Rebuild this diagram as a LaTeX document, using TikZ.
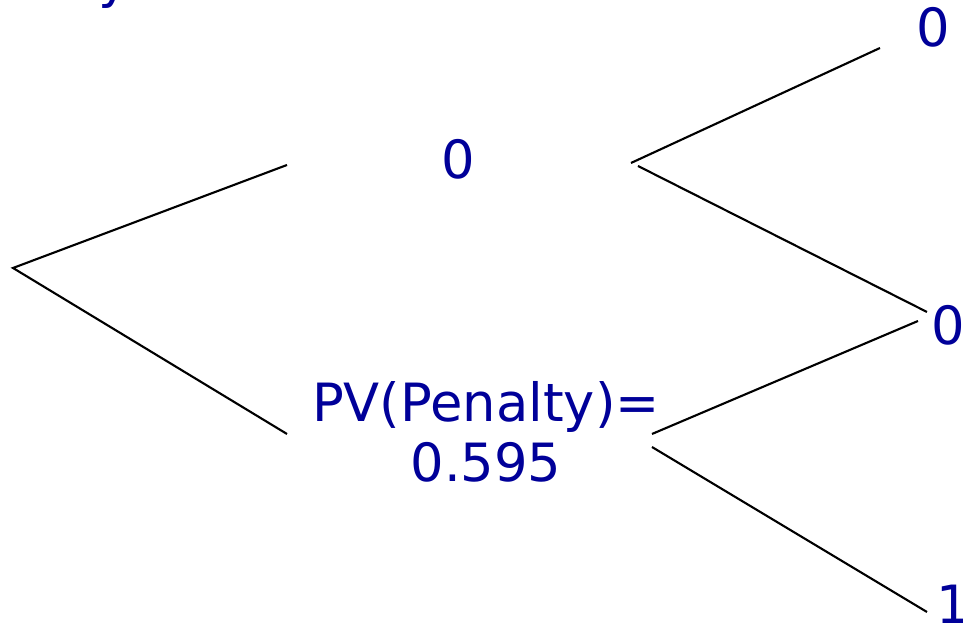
\documentclass[tikz,border=0pt]{standalone}
\usepackage{fontspec}
\setmainfont{DejaVu Sans}
\usepackage{xcolor}
\usepackage{tikz}
\usetikzlibrary{positioning}
\definecolor{valblue}{RGB}{0,0,153}

\begin{document}
\begin{tikzpicture}[
    val/.style={text=valblue, font=\fontsize{15}{17}\selectfont, align=center, inner sep=0pt},
    branch/.style={line width=0.6pt, black}
]
    \clip (0,0) rectangle (9.63,6.24);
    \useasboundingbox (0,0) rectangle (9.63,6.24);

    % values at the nodes
    \node[val, anchor=base] (cut) at (1.14,6.26) {y};
    \node[val] (up) at (4.585,4.65) {0};
    \node[val] (down) at (4.86,1.92) {PV(Penalty)=\\0.595};
    \node[val] (uu) at (9.33,5.97) {0};
    \node[val] (ud) at (9.485,2.99) {0};
    \node[val] (dd) at (9.53,0.20) {1};

    % branch ends
    \coordinate (root) at (0.13,3.56);
    \coordinate (upL) at (2.87,4.59);
    \coordinate (downL) at (2.87,1.90);
    \coordinate (upR1) at (6.31,4.61);
    \coordinate (upR2) at (6.38,4.58);
    \coordinate (downR1) at (6.52,1.90);
    \coordinate (downR2) at (6.52,1.77);
    \coordinate (uuL) at (8.80,5.76);
    \coordinate (udL1) at (9.27,3.12);
    \coordinate (udL2) at (9.18,3.03);
    \coordinate (ddL) at (9.27,0.12);

    \draw[branch] (upL) -- (root) -- (downL);
    \draw[branch] (upR1) -- (uuL);
    \draw[branch] (upR2) -- (udL1);
    \draw[branch] (downR1) -- (udL2);
    \draw[branch] (downR2) -- (ddL);
\end{tikzpicture}
\end{document}
